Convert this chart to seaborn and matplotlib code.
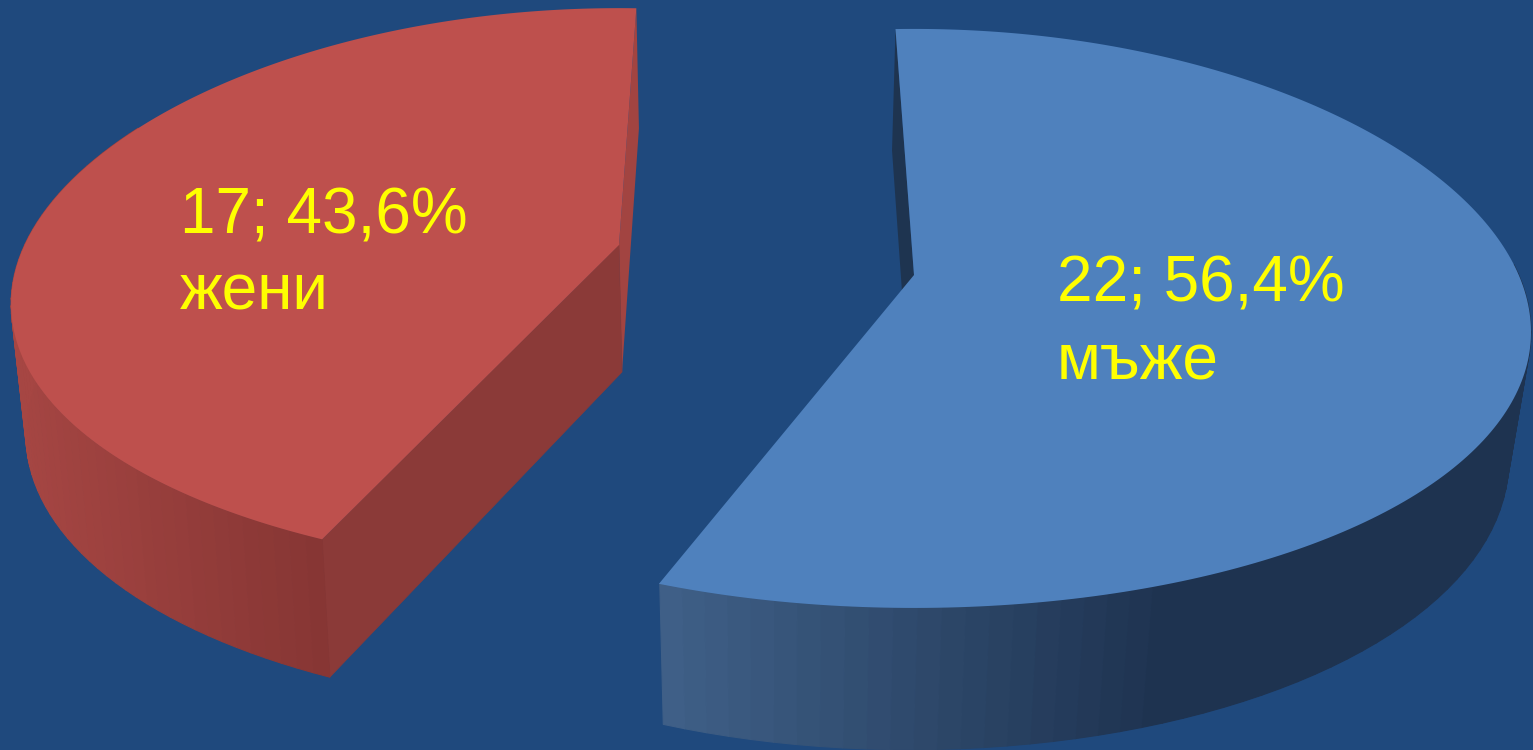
import numpy as np
import seaborn as sns
import matplotlib
matplotlib.use("Agg")
import matplotlib.pyplot as plt
from matplotlib.collections import PolyCollection
from matplotlib.colors import LinearSegmentedColormap
from matplotlib.patches import Polygon

# Survey counts by sex
categories = ["жени", "мъже"]
counts = [17, 22]

BACKGROUND = "#1F497D"
LABEL_COLOR = "#FFFF00"
TOP_COLORS = ["#BE504D", "#4F81BD"]
CUT_COLORS = ["#8B3A38", "#1E3450"]
BACK_COLORS = ["#A24441", "#1E3450"]
SIDE_RAMPS = [["#A64643", "#873634"], ["#406189", "#1E3350"]]

sns.set_theme(style="white")
plt.rcParams["font.family"] = ["Liberation Sans", "DejaVu Sans"]

# Perspective frames of each exploded slice, as
# (apex x, apex y, horizontal scale, vertical scale, foreshortening, side sag).
SLICES = {
    "жени": dict(start=205.0, top=(619, 245, 600, 275, 0.161, 14),
                 bottom=(622, 372, 588, 284, 0.165, 14), side=(205.0, 300),
                 baseline=(180, 233), shade_span=None),
    "мъже": dict(start=-2.0, top=(914, 275, 610, 283, 0.15, 14),
                 bottom=(910, 405, 592, 293, 0.15, 10), side=(85, 201),
                 baseline=(1057, 302), shade_span=520),
}
LINE_STEP = 77


def project(theta_deg, frame):
    """Map clockwise-from-back pie angles onto the tilted pie plane."""
    cx, cy, a, b, k, sag = frame
    t = np.radians(theta_deg)
    u, v = np.sin(t), -np.cos(t)
    d = 1 - k * v
    return np.column_stack([cx + a * u / d, cy + b * v / d + sag * u ** 2])


total = sum(counts)
fig = plt.figure(figsize=(15.33, 7.5), dpi=100, facecolor=BACKGROUND)
ax = fig.add_axes([0, 0, 1, 1], facecolor=BACKGROUND)
ax.set_xlim(0, 1533)
ax.set_ylim(750, 0)
ax.axis("off")

for i, (name, count) in enumerate(zip(categories, counts)):
    s = SLICES[name]
    share = count / total
    t0 = s["start"]
    t1 = t0 + share * 360
    top, bottom = s["top"], s["bottom"]
    apex_top = np.array(top[:2], float)
    apex_bot = np.array(bottom[:2], float)

    # Far radial face, seen only as a thin sliver beside the top surface
    far_angle = t1 if i == 0 else t0
    far_t, far_b = project(far_angle, top)[0], project(far_angle, bottom)[0]
    ax.add_patch(Polygon([far_t, far_b, apex_bot, apex_top],
                         fc=BACK_COLORS[i], ec="none", zorder=2))

    # Near radial face of the left slice
    if i == 0:
        ct, cb = project(t0, top)[0], project(t0, bottom)[0]
        ax.add_patch(Polygon([apex_top, ct, cb, apex_bot],
                             fc=CUT_COLORS[i], ec=CUT_COLORS[i], lw=0.5, zorder=3))

    # Curved rim, shaded facet by facet
    a0, a1 = s["side"]
    angles = np.linspace(a0, a1, 61)
    upper, lower = project(angles, top), project(angles, bottom)
    quads = [[upper[j], upper[j + 1], lower[j + 1], lower[j]]
             for j in range(len(angles) - 1)]
    ramp = LinearSegmentedColormap.from_list(f"rim{i}", SIDE_RAMPS[i])
    span = s["shade_span"] or np.ptp(upper[:, 0])
    pos = np.clip((upper[:-1, 0] - upper[:, 0].min()) / span, 0, 1)
    ax.add_collection(PolyCollection(quads, facecolors=ramp(pos),
                                     edgecolors=ramp(pos), linewidths=0.8,
                                     zorder=3))

    # Top surface
    arc = project(np.linspace(t0, t1, 240), top)
    ax.add_patch(Polygon(np.vstack([apex_top, arc]), closed=True,
                         fc=TOP_COLORS[i], ec="none", zorder=4))

    # Value label: count, share and category on two lines
    pct = f"{share * 100:.1f}".replace(".", ",")
    lx, ly = s["baseline"]
    ax.text(lx, ly, f"{count}; {pct}%", color=LABEL_COLOR, fontsize=46,
            va="baseline", ha="left", zorder=5)
    ax.text(lx, ly + LINE_STEP, name, color=LABEL_COLOR, fontsize=46,
            va="baseline", ha="left", zorder=5)

fig.savefig("out.png", dpi=100, facecolor=BACKGROUND)
